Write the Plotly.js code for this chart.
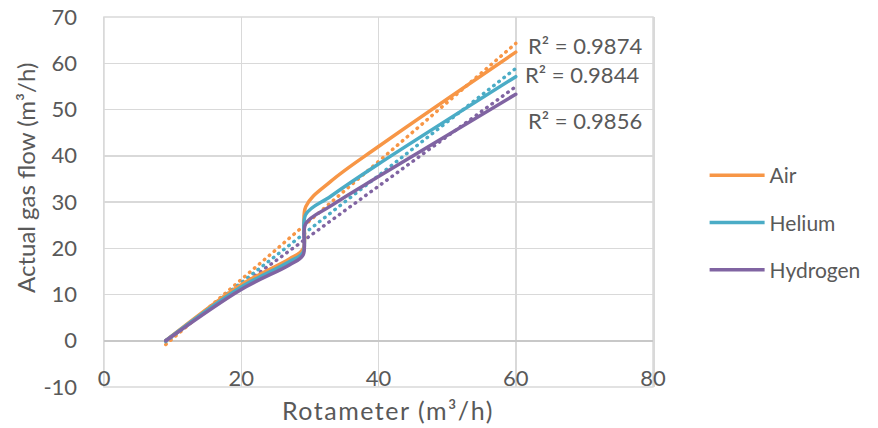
<!DOCTYPE html>
<html><head><meta charset="utf-8">
<script src="https://cdn.plot.ly/plotly-3.0.1.min.js"></script>
<style>
html,body{margin:0;padding:0;background:#fff;}
#chart{width:878px;height:428px;}
.scatterlayer .js-line{stroke-linecap:round;}
.annotation[data-index="3"] text{letter-spacing:1.5px;}
</style></head><body><div id="chart"></div>
<script>
// ---- data ----
const seriesNames = ['Air', 'Helium', 'Hydrogen'];
const rotameter = [9, 20, 27, 29, 29.4, 33, 40, 60];
const airFlow = [0, 12.1, 17.7, 19.8, 29.0, 34.4, 42.0, 62.4];
const heliumFlow = [0, 11.6, 17.1, 19.1, 27.3, 31.2, 38.2, 57.1];
const hydrogenFlow = [0, 11.1, 16.4, 18.5, 25.3, 29.1, 35.5, 53.3];
const rSquaredLabels = ['R² = 0.9874', 'R² = 0.9844', 'R² = 0.9856'];
const xTickValues = [0, 20, 40, 60, 80];
const yTickValues = [-10, 0, 10, 20, 30, 40, 50, 60, 70];

// ---- styling ----
const colors = ['#F79646', '#4BACC6', '#8064A2'];
const textColor = '#595959';
const gridColor = '#d9d9d9';
const FONT = 'Lato, "Open Sans", sans-serif';

function linFit(xs, ys) {
  const n = xs.length;
  const mx = xs.reduce((a, b) => a + b, 0) / n;
  const my = ys.reduce((a, b) => a + b, 0) / n;
  let sxy = 0, sxx = 0;
  for (let i = 0; i < n; i++) { sxy += (xs[i] - mx) * (ys[i] - my); sxx += (xs[i] - mx) ** 2; }
  const slope = sxy / sxx;
  return { slope, intercept: my - slope * mx };
}

const allY = [airFlow, heliumFlow, hydrogenFlow];
const traces = [];
allY.forEach((ys, i) => {
  const fit = linFit(rotameter, ys);
  const x0 = Math.min(...rotameter), x1 = Math.max(...rotameter);
  traces.push({
    x: [x0, x1], y: [fit.slope * x0 + fit.intercept, fit.slope * x1 + fit.intercept],
    mode: 'lines', showlegend: false, hoverinfo: 'skip',
    line: { color: colors[i], width: 3.5, dash: '0.5px,6px' }
  });
});
allY.forEach((ys, i) => {
  traces.push({
    x: rotameter, y: ys, name: seriesNames[i], mode: 'lines',
    legendgroup: 'g' + i,
    line: { color: colors[i], width: 3.5, shape: 'spline', smoothing: 1 }
  });
});

const rPos = [[70.1, 63.8], [69.6, 57.5], [70.1, 47.6]];
const annotations = rSquaredLabels.map((t, i) => ({
  text: t, x: rPos[i][0], y: rPos[i][1], xref: 'x', yref: 'y', showarrow: false,
  xanchor: 'center', yanchor: 'middle',
  font: { family: FONT, size: 22, color: textColor }
}));
annotations.push({
  text: 'Rotameter (m³/h)', x: 0.518, y: -0.062, xref: 'paper', yref: 'paper',
  xanchor: 'center', yanchor: 'middle',
  showarrow: false, font: { family: FONT, size: 25, color: textColor }
});
annotations.push({
  text: 'Actual gas flow (m³/h)', x: -0.142, y: 0.565, xref: 'paper', yref: 'paper',
  xanchor: 'center', yanchor: 'middle',
  textangle: -90, showarrow: false, font: { family: FONT, size: 24, color: textColor }
});

const layout = {
  width: 878, height: 428,
  margin: { l: 104, r: 219, t: 17, b: 41 },
  paper_bgcolor: '#fff', plot_bgcolor: '#fff',
  font: { family: FONT, color: textColor, size: 22 },
  xaxis: {
    range: [0, 80], tickvals: xTickValues, ticktext: xTickValues.map(String),
    anchor: 'free', position: 0.125,
    showgrid: true, gridcolor: gridColor, gridwidth: 1.5,
    zeroline: false, showline: false,
    ticks: '', ticklabelstandoff: 22, tickfont: { family: FONT, size: 22, color: textColor }
  },
  yaxis: {
    range: [-10, 70], tickvals: yTickValues, ticktext: yTickValues.map(String),
    showgrid: true, gridcolor: gridColor, gridwidth: 1.5,
    zeroline: true, zerolinecolor: '#c8c8c8', zerolinewidth: 1.5,
    showline: true, linecolor: gridColor, linewidth: 1.5, mirror: true,
    ticks: '', ticklabelstandoff: 21, tickfont: { family: FONT, size: 22, color: textColor }
  },
  shapes: [{
    type: 'rect', xref: 'paper', yref: 'paper', x0: 0, x1: 1, y0: 0, y1: 1,
    line: { color: gridColor, width: 1.5 }, layer: 'below'
  }],
  legend: {
    x: 1.094, y: 0.627, xanchor: 'left', yanchor: 'top',
    font: { family: FONT, size: 21, color: textColor },
    traceorder: 'grouped', tracegroupgap: 17, itemwidth: 55
  },
  annotations: annotations,
  showlegend: true
};

Plotly.newPlot('chart', traces, layout, { displayModeBar: false, staticPlot: true });
</script></body></html>
